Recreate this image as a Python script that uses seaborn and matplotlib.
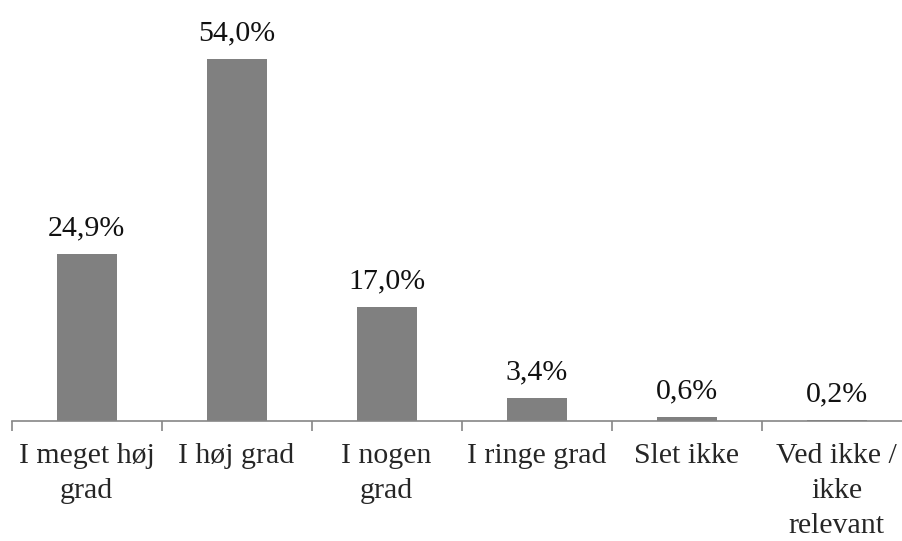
import matplotlib
matplotlib.use("Agg")
import matplotlib.pyplot as plt
import seaborn as sns
import pandas as pd

# svarkategorier og andele (%)
kategorier = ["I meget høj\ngrad", "I høj grad", "I nogen\ngrad", "I ringe grad", "Slet ikke", "Ved ikke /\nikke\nrelevant"]
andele = [24.9, 54.0, 17.0, 3.4, 0.6, 0.2]
etiketter = ["24,9%", "54,0%", "17,0%", "3,4%", "0,6%", "0,2%"]

sns.set_style("white")
plt.rcParams['font.family'] = ['Liberation Serif', 'DejaVu Serif']

df = pd.DataFrame({"kategori": kategorier, "andel": andele})

fig = plt.figure(figsize=(9.02, 5.41), dpi=100)
ax = fig.add_axes([11.5/902, (541-421)/541, 900/902, 402/541])

sns.barplot(data=df, x="kategori", y="andel", color="#808080", saturation=1,
            width=0.4, ax=ax, edgecolor="none")

ax.set_ylim(0, 60)
ax.set_xlim(-0.5, 5.5)
for i, (v, t) in enumerate(zip(andele, etiketter)):
    ax.annotate(t, (i, v), xytext=(0, 9), textcoords="offset points",
                ha="center", va="bottom", fontsize=21.5, color="#111111")

for s in ["top", "right", "left"]:
    ax.spines[s].set_visible(False)
ax.spines["bottom"].set_color("#868686")
ax.spines["bottom"].set_linewidth(1.2)
ax.set_yticks([])
ax.set_xticks([x - 0.5 for x in range(7)], minor=False)
ax.set_xticklabels([])
ax.set_xticks(range(6), minor=True)
ax.set_xticklabels(kategorier, minor=True, fontsize=21.5, linespacing=1.45)
ax.tick_params(axis="x", which="major", bottom=True, length=7, width=1.2, color="#868686", direction="out")
ax.tick_params(axis="x", which="minor", bottom=True, length=0, pad=16)
ax.set_xlabel("")
ax.set_ylabel("")

fig.savefig("out.png", dpi=100)
